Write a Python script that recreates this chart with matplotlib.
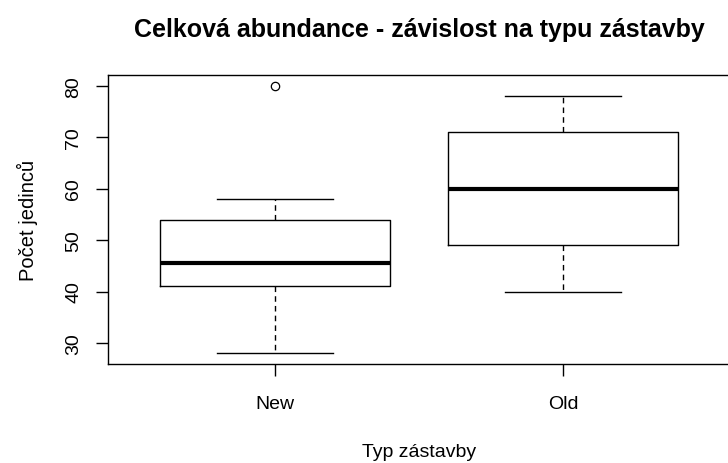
import matplotlib.pyplot as plt

groups = ['New', 'Old']
whislo = [28, 40]
q1 = [41, 49]
med = [45.5, 60]
q3 = [54, 71]
whishi = [58, 78]
fliers = [[80], []]

plt.rcParams['font.family'] = ['Liberation Sans', 'DejaVu Sans']

fig = plt.figure(figsize=(7.28, 4.64), dpi=100)
ax = fig.add_axes([108 / 728, 99 / 464, 622 / 728, 289 / 464])

stats = [dict(label=g, whislo=lo, q1=a, med=m, q3=b, whishi=hi, fliers=f)
         for g, lo, a, m, b, hi, f in zip(groups, whislo, q1, med, q3, whishi, fliers)]

ax.bxp(stats, positions=[1, 2], widths=0.8, capwidths=0.4, showfliers=True,
       boxprops=dict(color='black', linewidth=1),
       medianprops=dict(color='black', linewidth=3, solid_capstyle='butt'),
       whiskerprops=dict(color='black', linewidth=1, linestyle=(0, (4, 3))),
       capprops=dict(color='black', linewidth=1),
       flierprops=dict(marker='o', markerfacecolor='none', markeredgecolor='black',
                       markersize=6, markeredgewidth=0.9))

ax.set_xlim(0.42, 2.58)
ax.set_ylim(25.92, 82.08)
ax.set_yticks([30, 40, 50, 60, 70, 80])
ax.set_yticklabels(['30', '40', '50', '60', '70', '80'], rotation=90, va='center')
ax.set_xticks([1, 2])
ax.set_xticklabels(groups)
ax.tick_params(length=8.5, width=1, labelsize=14, pad=10)
ax.tick_params(axis='x', pad=14)
for s in ax.spines.values():
    s.set_linewidth(1)

ax.set_title('Celková abundance - závislost na typu zástavby',
             fontsize=18, fontweight='bold', pad=28)
ax.set_xlabel('Typ zástavby', fontsize=14, labelpad=22)
ax.set_ylabel('Počet jedinců', fontsize=14.5, labelpad=20)

fig.savefig('out.png', dpi=100)
